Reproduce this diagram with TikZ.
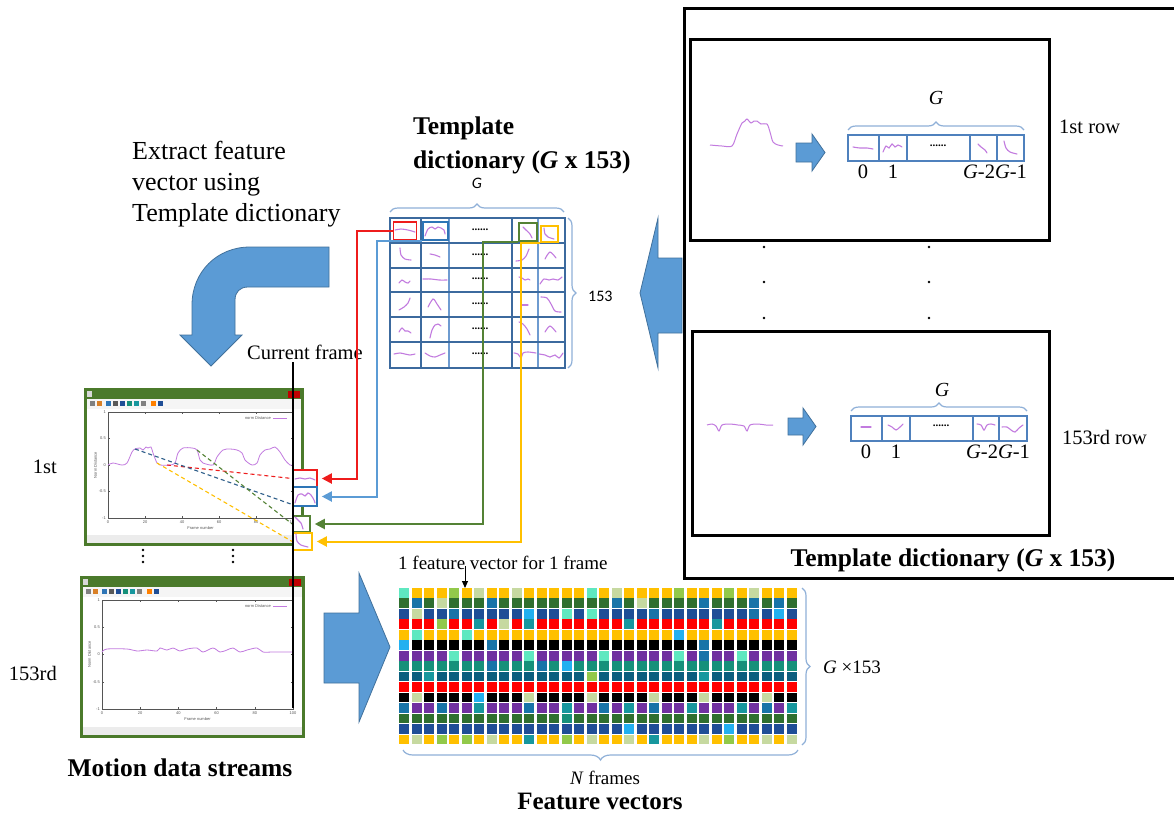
\documentclass[tikz,border=0pt]{standalone}
\usepackage{fontspec}
\setmainfont{Liberation Serif}
\newfontfamily\calibri{Carlito}
\newfontfamily\plotfont{Liberation Sans}
\usetikzlibrary{arrows.meta,decorations.pathreplacing,calc}

\definecolor{arrowblue}{HTML}{5B9BD5}
\definecolor{arrowedge}{HTML}{41719C}
\definecolor{gridblue}{HTML}{3C6A9E}
\definecolor{gridlight}{HTML}{6E9BD0}
\definecolor{stripblue}{HTML}{4F81BD}
\definecolor{bracecol}{HTML}{8FB0D8}
\definecolor{wave}{HTML}{C27BDF}
\definecolor{linkred}{HTML}{EE1C1C}
\definecolor{linkblue}{HTML}{5B9BD5}
\definecolor{boxblue}{HTML}{2E75B6}
\definecolor{linkgreen}{HTML}{548235}
\definecolor{linkyellow}{HTML}{FFC000}
\definecolor{dashteal}{HTML}{2F5F8A}
\definecolor{wingreen}{HTML}{4B7A2B}
\definecolor{axcol}{HTML}{555555}
% feature vector palette
\definecolor{fvY}{HTML}{FFC000}
\definecolor{fvM}{HTML}{5FE8C0}
\definecolor{fvL}{HTML}{C6D9A0}
\definecolor{fvG}{HTML}{92C94A}
\definecolor{fvD}{HTML}{2F6F2F}
\definecolor{fvT}{HTML}{1874A8}
\definecolor{fvB}{HTML}{1F4E96}
\definecolor{fvC}{HTML}{22B0F0}
\definecolor{fvR}{HTML}{FF0000}
\definecolor{fvK}{HTML}{000000}
\definecolor{fvP}{HTML}{7030A0}
\definecolor{fvE}{HTML}{16907A}
\definecolor{fvS}{HTML}{0B5E7E}
\definecolor{fvA}{HTML}{17979E}

% small waveform sketch centred at (#1,#2)
\newcommand\wv[3]{\begin{scope}[shift={(#1,#2)}]\draw[wavestroke] plot[smooth] coordinates {#3};\end{scope}}

% plot window: outer box #1..#4, axis box #5..#8
\newcommand\mdsWindow[8]{%
  \fill[white] (#1,#2) rectangle (#3,#4);
  \fill[wingreen] (#1,#2) rectangle (#3,#2+10);
  \fill[red!75!black] (#3-14,#2+1) rectangle (#3-2,#2+9);
  \fill[white!70!gray] (#1+2,#2+2) rectangle (#1+7,#2+8);
  \fill[gray!8] (#1,#2+10) rectangle (#3,#2+20);
  \foreach \dx/\ic in {5/gray,12/orange!70!gray,21/boxblue,28/gray!70!black,35/fvB,42/fvE,49/fvA,56/gray,66/orange,73/fvB}{
    \fill[\ic] (#1+\dx,#2+12) rectangle ++(4.5,5);}
  \fill[gray!15] (#1,#4-9) rectangle (#3,#4);
  \draw[wingreen,line width=3] (#1,#2) rectangle (#3,#4);
  \draw[axcol,line width=.5] (#5,#6) rectangle (#7,#8);
  \foreach \k/\lab in {0/0,1/20,2/40,3/60,4/80,5/100}{
    \pgfmathsetmacro\tx{#5+(#7-#5)*\k/5}
    \draw[axcol,line width=.4] (\tx,#8) -- (\tx,#8-2) (\tx,#6) -- (\tx,#6+2);
    \node[tick,anchor=north] at (\tx,#8+2) {\lab};}
  \foreach \k/\lab in {0/1,1/0.5,2/0,3/-0.5,4/-1}{
    \pgfmathsetmacro\ty{#6+(#8-#6)*\k/4}
    \draw[axcol,line width=.4] (#5,\ty) -- (#5+2,\ty) (#7,\ty) -- (#7-2,\ty);
    \node[tick,anchor=east] at (#5-2,\ty) {\lab};}
  \node[tick,anchor=north] at ({(#5+#7)/2},#8+8) {Frame number};
  \node[tick,rotate=90,anchor=south] at (#5-11,{(#6+#8)/2}) {Norm Distance};
  \node[tick,anchor=east] at (#7-22,#6+6) {norm Distance};
  \draw[wave,line width=.5] (#7-20,#6+6) -- (#7-6,#6+6);
}

\begin{document}
\begin{tikzpicture}[x=1pt,y=-1pt,
  every node/.style={inner sep=0pt},
  wavestroke/.style={wave,line width=1.1,line cap=round},
  plotcurve/.style={wave,line width=.8},
  tick/.style={font=\plotfont\fontsize{4}{4}\selectfont,text=axcol},
  flowarrow/.style={fill=arrowblue,draw=arrowedge,line width=.8},
  brc/.style={bracecol,line width=1.2,decorate,decoration={brace,amplitude=8pt}},
  tdgrid/.style={gridblue,line width=2.2},
  stripline/.style={stripblue,line width=1.6},
  pickbox/.style={draw,line width=1.6,minimum width=#1,fill=none},
  link/.style={line width=2,-{Triangle[length=10pt,width=10pt]},shorten >=4pt},
  dlink/.style={dashed,line width=1.1,dash pattern=on 4pt off 3pt},
  regular/.style={font=\fontsize{20.5}{24}\selectfont},
  bigtxt/.style={font=\fontsize{26}{31}\selectfont},
  heading/.style={font=\bfseries\fontsize{25.5}{34}\selectfont},
  framebox/.style={draw,line width=3,fill=none}]

\useasboundingbox (0,0) rectangle (1174,817);
\fill[white] (0,0) rectangle (1174,817);

% ---------- template dictionary panel (right) ----------
\draw[line width=3] (1180,8) -- (684,8) -- (684,578) -- (1180,578);
\node[framebox,minimum width=359,minimum height=201] (rowone) at (869.5,139.5) {};
\node[framebox,minimum width=357,minimum height=204] (rowlast) at (870.5,433) {};
\foreach \yy in {247,282,318}{
  \fill (764,\yy) circle (1.4);
  \fill (929,\yy) circle (1.4);}

% first row
\draw[plotcurve,line width=1] plot[smooth] coordinates {(710,145) (722,146) (732,146) (737,134) (742,123) (745,121) (747,119) (751,123) (754,121) (757,121) (761,124) (767,124) (770,132) (773,142) (778,145) (783,146)};
\draw[flowarrow] (796,143) -- (812,143) -- (812,134) -- (825,152.5) -- (812,171) -- (812,162) -- (796,162) -- cycle;
\node[draw=stripblue,line width=1.6,minimum width=176,minimum height=26] (stripone) at (936,148) {};
\foreach \xx in {879,907,970,997}{\draw[stripline] (\xx,135) -- (\xx,161);}
\node[font=\bfseries\fontsize{11}{11}\selectfont] at (938,146) {......};
\wv{863}{148}{(-10,-1) (-3,0) (4,0) (10,1)}
\wv{893}{147}{(-10,5) (-7,-1) (-4,1) (-1,-3) (2,0) (5,-2) (9,0)}
\wv{983}{148}{(-5,-4) (-2,-1) (2,2) (4,5)}
\wv{1010}{148}{(-6,-7) (-4,0) (0,4) (7,6)}
\draw[brc] (848,130) -- (1024,130);
\node[font=\itshape\fontsize{20}{20}\selectfont] at (936,98) {G};
\node[regular] at (863,172) {0};
\node[regular] at (893,172) {1};
\node[regular] at (995,172) {\textit{G}-2\textit{G}-1};
\node[regular,anchor=west] at (1059,127) {1st row};

% last row
\draw[plotcurve,line width=1] plot[smooth] coordinates {(707,425) (712,424) (716,426) (719,431) (722,425) (730,424) (738,425) (744,426) (747,431) (750,425) (758,424) (766,425) (773,425)};
\draw[flowarrow] (788,418) -- (803,418) -- (803,408) -- (816,426.5) -- (803,445) -- (803,435) -- (788,435) -- cycle;
\node[draw=stripblue,line width=1.6,minimum width=176,minimum height=25] (striplast) at (939,428.5) {};
\foreach \xx in {882,910,973,999}{\draw[stripline] (\xx,416) -- (\xx,441);}
\node[font=\bfseries\fontsize{11}{11}\selectfont] at (941,426) {......};
\wv{866}{427}{(-5,0) (5,0)}
\wv{896}{427}{(-8,-2) (-4,0) (0,3) (4,0) (7,-3)}
\wv{986}{427}{(-9,-3) (-5,-2) (-2,3) (1,-2) (5,-3) (9,-2)}
\wv{1013}{428}{(-11,-1) (-6,-1) (-2,2) (2,4) (6,0) (10,-3)}
\draw[brc] (851,411) -- (1027,411);
\node[font=\itshape\fontsize{20}{20}\selectfont] at (942,390) {G};
\node[regular] at (866,452) {0};
\node[regular] at (896,452) {1};
\node[regular] at (998,452) {\textit{G}-2\textit{G}-1};
\node[regular,anchor=west] at (1062,437) {153rd row};

\node[heading] at (953,560) {Template dictionary (\textit{G} x 153)};

% ---------- arrow from panel to dictionary grid ----------
\draw[flowarrow] (640,293) -- (658,218) -- (658,258) -- (682,258) -- (682,333) -- (658,333) -- (658,368) -- cycle;

% ---------- template dictionary grid (middle) ----------
\node[heading,align=left,anchor=west] (tdtitle) at (413,145) {Template\\dictionary (\textit{G} x 153)};
\node[font=\calibri\itshape\fontsize{16}{16}\selectfont] at (477,183) {G};
\draw[brc] (390,212) -- (564,212);
\draw[brc] (568,218) -- (568,368);
\node[font=\calibri\fontsize{16}{16}\selectfont,anchor=west] at (588,296) {153};

\foreach \yy in {230.5,255.5,280,304.5,329.5,355}{
  \node[font=\bfseries\fontsize{11}{11}\selectfont] at (480,\yy-1) {......};}
% cell sketches
\wv{405}{231}{(-10,-1) (-4,-2) (3,-1) (10,1)}
\wv{435}{231}{(-10,5) (-7,-2) (-3,-4) (0,-2) (3,-4) (6,-3) (9,-1) (10,3)}
\wv{528}{232}{(-5,-5) (-2,-2) (2,2) (4,6)}
\wv{549}{234}{(-5,-6) (-4,0) (-1,3) (5,5)}
\wv{405}{255}{(-5,-7) (-4,0) (0,4) (6,5)}
\wv{435}{255}{(-5,-1) (0,0) (5,2)}
\wv{525}{255}{(-9,6) (-3,5) (1,1) (4,-6)}
\wv{551}{255}{(-6,4) (-1,-3) (5,3)}
\wv{405}{281}{(-6,2) (-3,-1) (0,1) (3,2) (5,0)}
\wv{435}{280}{(-12,-1) (-4,-1) (4,0) (12,0)}
\wv{525}{279}{(-6,-2) (-3,-1) (0,1) (3,0) (5,1)}
\wv{551}{280}{(-11,4) (-7,-1) (-2,0) (2,-1) (7,0) (11,-3)}
\wv{405}{304}{(-6,6) (-1,3) (3,-1) (5,-6)}
\wv{435}{304}{(-7,3) (-2,-5) (2,0) (6,6)}
\wv{525}{305}{(-4,0) (3,0)}
\wv{551}{304}{(-10,-7) (-4,-6) (0,0) (4,7) (10,8)}
\wv{405}{330}{(-6,2) (-3,-2) (0,1) (3,1) (6,3)}
\wv{436}{330}{(-6,8) (-4,0) (-1,-5) (2,-6) (5,-4)}
\wv{525}{329}{(-6,-7) (-2,-5) (2,0) (5,6)}
\wv{551}{329}{(-6,3) (-1,-3) (5,3)}
\wv{405}{354}{(-11,0) (-5,-1) (0,0) (5,1) (10,0)}
\wv{435}{355}{(-10,-2) (-5,1) (0,2) (5,0) (10,-2)}
\wv{525}{354}{(-11,-1) (-7,0) (-4,4) (-2,-1) (3,-2) (11,-1)}
\wv{551}{355}{(-12,-1) (-6,0) (-1,2) (4,0) (8,3) (12,-2)}
% grid lines
\foreach \xx in {421,512}{\draw[tdgrid] (\xx,218) -- (\xx,368);}
\foreach \xx in {449,538}{\draw[gridlight,line width=1.6] (\xx,218) -- (\xx,368);}
\foreach \yy in {243,268,292,317,342}{\draw[tdgrid] (390,\yy) -- (565,\yy);}
\draw[tdgrid] (390,218) rectangle (565,368);
% highlighted templates
\node[pickbox=23,draw=linkred,minimum height=18] (tdR) at (405,231) {};
\node[pickbox=25,draw=boxblue,minimum height=18] (tdB) at (435.5,231) {};
\node[pickbox=18,draw=linkgreen,minimum height=18] (tdG) at (528,232) {};
\node[pickbox=17,draw=linkyellow,minimum height=16] (tdY) at (549.5,234) {};

% ---------- extraction text and bent arrow ----------
\node[bigtxt,align=left,anchor=west] (extract) at (132,184) {Extract feature\\vector using\\Template dictionary};
\draw[flowarrow] (329,247) -- (250,247) .. controls (217,247) and (192,272) .. (192,305) -- (192,335) -- (180,335) -- (211,366) -- (242,335) -- (235,335) -- (235,300) .. controls (235,292) and (240,287) .. (248,287) -- (329,287) -- cycle;

% ---------- motion data streams ----------
\node[regular,anchor=west] (curlabel) at (247,352) {Current frame};
\node[regular,anchor=east] at (57,467) {1st};
\node[regular,anchor=east] at (57,673) {153rd};

\mdsWindow{85}{389}{302}{544}{108}{412}{293}{518}
\draw[plotcurve] plot[smooth] coordinates {(108,465) (113,463) (122,465) (127,463) (132,452) (135,449) (140,448) (143,450) (146,447) (148,448) (151,447) (153,453) (157,463) (160,465) (170,465) (175,463) (178,453) (183,448) (192,448) (197,450) (200,460) (203,463) (213,465) (217,457) (223,450) (230,449) (237,450) (242,453) (245,460) (252,465) (257,463) (260,455) (265,450) (270,449) (275,447) (280,452) (285,460) (290,465) (293,465)};

\mdsWindow{81}{577}{303}{736}{102}{600}{293}{709}
\draw[plotcurve] plot[smooth] coordinates {(102,652) (107,649) (127,649) (137,651) (147,650) (157,651) (160,648) (167,650) (173,648) (180,651) (187,649) (197,648) (203,652) (213,648) (220,652) (227,650) (233,648) (240,652) (247,650) (257,648) (263,652) (273,652) (293,652)};

\foreach \xx in {143,233}{\foreach \yy in {550,556,562}{\fill (\xx,\yy) circle (1.3);}}

% frame snippets picked out of the first stream
\node[pickbox=24,draw=linkred,minimum height=17,fill=white] (cfR) at (305,478.5) {};
\node[pickbox=24,draw=boxblue,minimum height=19,fill=white] (cfB) at (305,496.5) {};
\node[pickbox=17,draw=linkgreen,minimum height=16,fill=white] (cfG) at (301.5,524) {};
\node[pickbox=19,draw=linkyellow,minimum height=17,fill=white] (cfY) at (302.5,541.5) {};
\wv{305}{478}{(-10,1) (-5,0) (0,1) (5,0) (10,2)}
\wv{305}{497}{(-10,6) (-7,-2) (-3,-3) (0,-1) (3,-4) (6,-2) (9,3) (10,6)}
\wv{301}{524}{(-6,-7) (-3,-4) (0,-1) (2,5)}
\wv{302}{541}{(-6,-7) (-5,0) (-1,4) (6,6)}

% dashed guides from the stream to the snippets
\coordinate (pR) at (167,465);
\coordinate (pB) at (135,449);
\coordinate (pG) at (197,450);
\coordinate (pY) at (157,463);
\draw[dlink,linkred] (pR) -- (cfR.west);
\draw[dlink,dashteal] (pB) -- ($(cfB.west)+(0,8)$);
\draw[dlink,linkgreen] (pG) -- (cfG.west);
\draw[dlink,linkyellow] (pY) -- (cfY.west);

% current frame marker
\coordinate (cftop) at (293,362);
\coordinate (cfbot) at (293,708);
\draw[line width=2] (cftop) -- (cfbot);

\node[heading] at (180,768) {Motion data streams};

% ---------- connectors from dictionary to snippets ----------
\coordinate (rx) at (357,0);
\coordinate (bx) at (377,0);
\coordinate (gx) at (483,0);
\coordinate (yx) at (521,0);
\draw[link,linkred] (tdR.west) -- (tdR.west -| rx) |- (cfR.east);
\draw[link,linkblue] (tdB.south west) -- (tdB.south west -| bx) |- (cfB.east);
\draw[link,linkgreen] (tdG.south west) -- (tdG.south west -| gx) |- (cfG.east);
\draw[link,linkyellow] (tdY.south west) -- (tdY.south west -| yx) |- (cfY.east);

% ---------- feature vectors ----------
\draw[flowarrow] (324,613) -- (359,613) -- (359,573) -- (390,647) -- (359,722) -- (359,683) -- (324,683) -- cycle;

\foreach \row [count=\j from 0] in {
 {M,Y,Y,Y,G,Y,L,Y,Y,L,Y,Y,Y,Y,Y,M,Y,L,Y,Y,Y,Y,G,Y,Y,Y,G,Y,L,Y,Y,Y},
 {D,T,D,L,D,D,D,T,D,D,D,D,D,D,D,D,D,T,D,L,D,D,D,D,T,D,D,D,T,D,T,D},
 {B,L,B,B,T,B,B,B,B,B,C,B,B,M,B,M,B,B,B,B,T,B,B,B,B,B,B,B,T,B,C,B},
 {R,R,R,G,R,R,A,R,L,R,A,R,R,R,R,R,R,R,A,R,R,R,R,R,R,A,R,R,R,R,R,R},
 {Y,M,Y,Y,Y,M,Y,Y,Y,Y,Y,Y,Y,Y,Y,Y,Y,Y,Y,Y,Y,Y,C,Y,Y,Y,Y,Y,Y,Y,Y,Y},
 {C,K,K,K,K,K,K,T,K,K,K,K,K,K,K,K,K,K,K,K,K,K,K,K,T,K,K,K,K,K,K,K},
 {P,P,P,P,M,P,P,P,P,P,M,P,P,P,P,P,M,P,P,P,P,P,M,P,T,P,P,M,P,P,P,P},
 {E,E,E,E,E,E,E,T,E,E,E,T,E,C,E,E,E,E,E,E,E,E,E,E,E,E,E,E,E,E,E,E},
 {S,S,A,S,S,S,S,S,S,S,S,S,S,S,S,G,S,S,S,S,S,S,S,S,A,S,S,S,S,S,S,S},
 {R,R,R,R,R,R,R,R,R,R,R,R,R,R,R,R,R,R,R,R,R,R,R,R,R,R,R,R,R,R,R,R},
 {K,L,K,K,K,K,C,K,K,K,L,K,K,K,K,L,K,K,K,K,L,K,K,K,L,K,K,K,K,L,K,K},
 {T,P,P,T,P,P,A,P,P,P,T,P,P,A,P,P,T,P,A,P,T,P,P,A,P,P,P,A,P,T,P,A},
 {D,D,D,D,D,D,D,D,D,D,D,D,D,E,D,D,D,D,D,D,D,D,D,D,D,D,D,D,D,D,D,D},
 {B,B,B,B,B,B,B,B,B,B,B,B,B,B,B,B,B,B,C,B,B,B,B,B,B,B,C,B,B,B,B,B},
 {Y,L,Y,G,Y,G,Y,L,Y,Y,A,Y,Y,G,Y,L,Y,Y,L,Y,A,Y,Y,Y,L,Y,G,Y,Y,L,Y,L}}{
  \foreach \c [count=\i from 0] in \row {
    \fill[fv\c] (399+\i*12.5,588+\j*10.47) rectangle ++(10.3,9.7);}}
\node[anchor=north west,minimum width=400,minimum height=157] (fvgrid) at (399,588) {};

\node[font=\fontsize{19}{19}\selectfont,anchor=west] (fvnote) at (398,563) {1 feature vector for 1 frame};
\coordinate (fvpoint) at (465,566);
\draw[line width=1,-{Triangle[length=7pt,width=6pt]}] (fvpoint) -- (fvpoint |- fvgrid.north);

\draw[brc] (802,588) -- (802,745);
\node[font=\fontsize{19}{19}\selectfont,anchor=west] at (823,667) {\textit{G} ×153};
\draw[brc,decoration={brace,amplitude=10pt}] (798,750) -- (403,750);
\node[font=\fontsize{19}{19}\selectfont] at (605,778) {\textit{N} frames};
\node[font=\bfseries\fontsize{25}{25}\selectfont] at (600,801) {Feature vectors};
\end{tikzpicture}
\end{document}
